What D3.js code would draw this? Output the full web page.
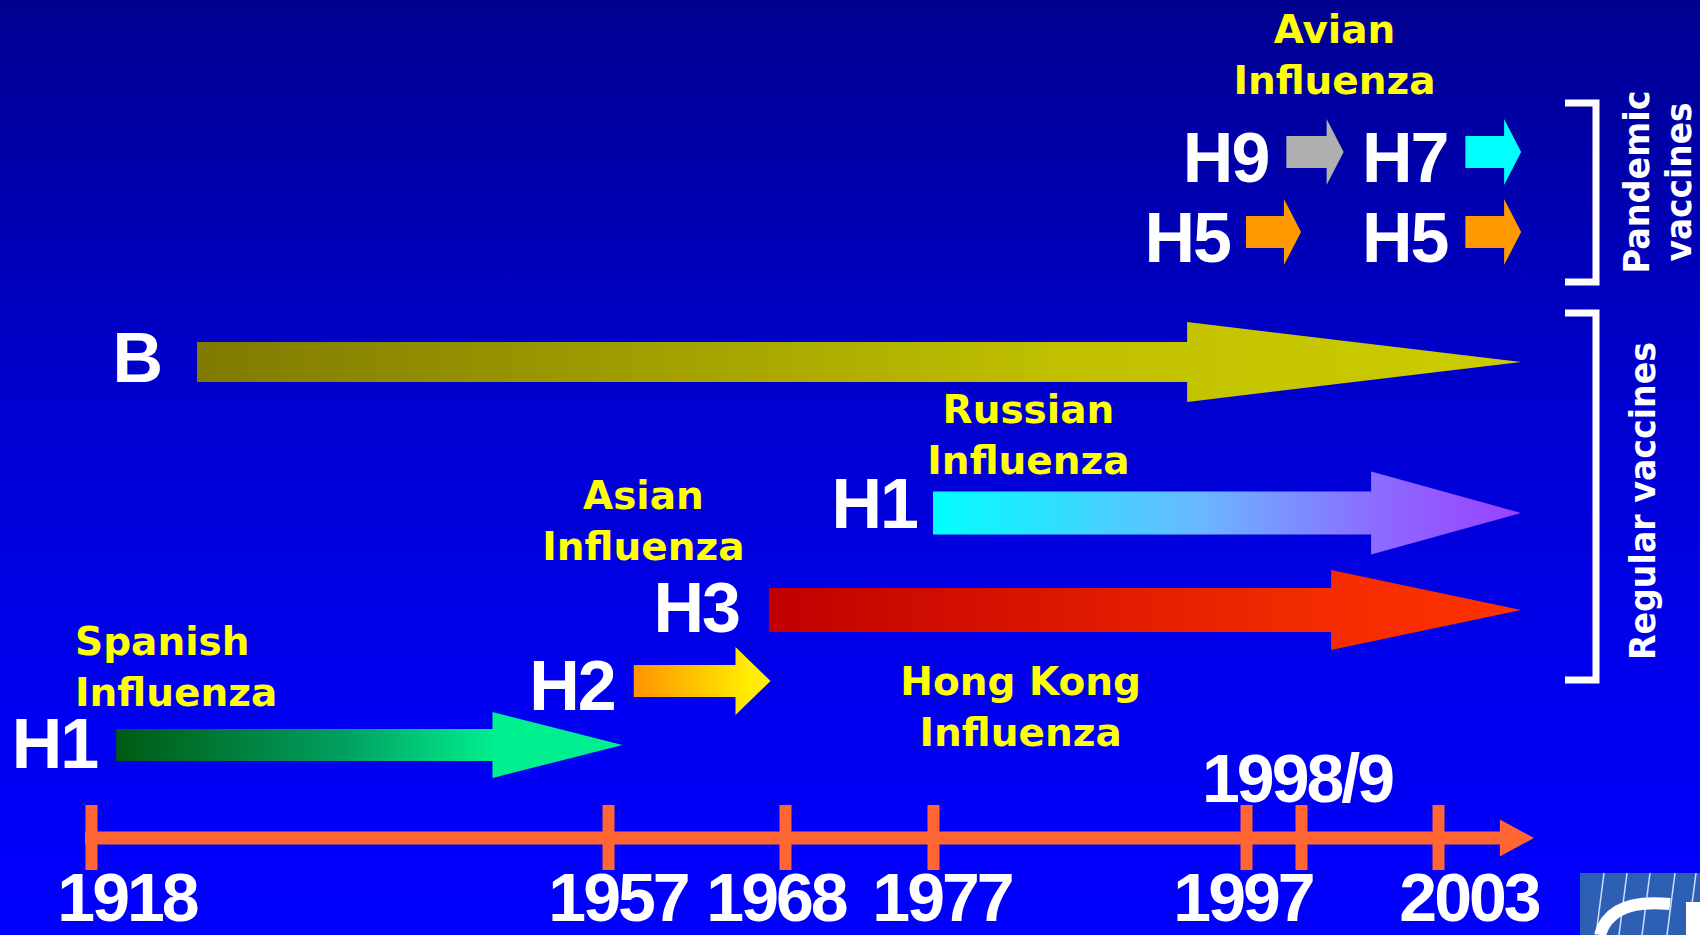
<!DOCTYPE html>
<html>
<head>
<meta charset="utf-8">
<script src="https://cdn.jsdelivr.net/npm/d3@7"></script>
<style>
  body { margin: 0; background: #0000ff; overflow: hidden; }
</style>
</head>
<body>
<div id="chart"></div>
<script>
// ---- data ----
var tickYears = [1918, 1957, 1968, 1977, 1997, 1998.5, 2003];
var tickLabels = ["1918", "1957", "1968", "1977", "1997", "1998/9", "2003"];
var axisSpan = [1917.55, 2006.15];

// regular (seasonal) subtypes: label, first year, arrow tip year, row
var subtypeNames = ["H1", "H2", "H3", "H1", "B"];
var subtypeStart = [1919.9, 1958.6, 1967.0, 1977.0, 1926.0];
var subtypeEnd = [1957.9, 1967.1, 2005.73, 2005.73, 2005.73];
var subtypeRow = ["spanish", "h2", "h3", "russian", "b"];

// avian strains (pandemic vaccine candidates)
var avianNames = ["H9", "H7", "H5", "H5"];
var avianStart = [1998.1, 2003.9, 1997.0, 2003.9];
var avianEnd = [1999.9, 2005.73, 1998.5, 2005.73];
var avianRow = ["avianTop", "avianTop", "avianBottom", "avianBottom"];

// pandemic names and the year they sit over
var pandemicNames = ["Spanish", "Asian", "Hong Kong", "Russian", "Avian"];
var pandemicYears = [1916.8, 1959.2, 1982.6, 1983.1, 1999.6];
var pandemicRow = ["spanishName", "asianName", "hongkongName", "russianName", "avianName"];

var vaccineGroups = [["Pandemic", "vaccines"], ["Regular vaccines"]];

// ---- layout ----
var W = 1700, H = 935;
var rowNames = ["avianName", "avianTop", "avianBottom", "b", "russianName", "russian",
  "asianName", "h3", "h2", "spanishName", "hongkongName", "spanish"];
var rowY = [43, 152, 232, 362, 423, 513, 509, 610, 681, 655, 695, 745];
var lineGap = 51;

var styles = {
  spanish: { shaft: 32, headH: 66, head: 130, gap: 19, dy: 23,
    stops: [[0, "#005a14"], [0.45, "#00a060"], [0.75, "#00f090"], [1, "#00f090"]] },
  h2: { shaft: 32, headH: 68, head: 35, gap: 19, dy: 29,
    stops: [[0, "#ff9400"], [0.85, "#ffee00"], [1, "#ffee00"]] },
  h3: { shaft: 44, headH: 80, head: 190, gap: 30, dy: 22,
    stops: [[0, "#c00000"], [0.7, "#f22a00"], [1, "#ff3300"]] },
  russian: { shaft: 43, headH: 83, head: 150, gap: 16, dy: 15,
    stops: [[0, "#00ffff"], [0.45, "#6ab8ff"], [0.75, "#8c6cff"], [1, "#9a40ff"]] },
  b: { shaft: 40, headH: 80, head: 334, gap: 36, dy: 20,
    stops: [[0, "#807a00"], [0.65, "#c0c000"], [1, "#cccc00"]] }
};
var avianColors = ["#b0b0b0", "#00ffff", "#ff9900", "#ff9900"];
var avianGap = [18, 18, 16, 18];
var axisColor = "#ff6633";
var labelShift = [36, 10, -9, 9, -3, -4, 31];
var sideLength = [[183, 159], [318]];

var svg = d3.select("#chart").append("svg")
  .attr("width", W)
  .attr("height", H);
var defs = svg.append("defs");

// background
var bg = defs.append("linearGradient").attr("id", "bg")
  .attr("x1", 0).attr("y1", 0).attr("x2", 0).attr("y2", 1);
[[0, "#000090"], [0.4, "#0000cc"], [0.72, "#0000ee"], [1, "#0000ff"]].forEach(function (s) {
  bg.append("stop").attr("offset", s[0]).attr("stop-color", s[1]);
});
svg.append("rect").attr("width", W).attr("height", H).attr("fill", "url(#bg)");

// the time scale on the slide is not even, so it is piecewise
var x = d3.scaleLinear()
  .domain(tickYears)
  .range([91, 608, 785, 933, 1246, 1301, 1438]);
var y = d3.scaleOrdinal().domain(rowNames).range(rowY);

function arrowPath(x0, x1, cy, shaft, headH, head) {
  var xh = x1 - head, s = shaft / 2, h = headH / 2;
  return "M" + x0 + "," + (cy - s) + "H" + xh + "V" + (cy - h) +
    "L" + x1 + "," + cy + "L" + xh + "," + (cy + h) + "V" + (cy + s) + "H" + x0 + "Z";
}

var whiteFont = "'Liberation Sans', Arial, sans-serif";
var yellowFont = "'DejaVu Sans', Verdana, sans-serif";

// ---- time axis ----
var axisY = 838;
var axisG = svg.append("g");
axisG.append("rect")
  .attr("x", x(axisSpan[0]))
  .attr("y", axisY - 6.5)
  .attr("width", x(axisSpan[1]) - 33 - x(axisSpan[0]))
  .attr("height", 13)
  .attr("fill", axisColor);
axisG.append("path")
  .attr("d", "M" + (x(axisSpan[1]) - 34) + "," + (axisY - 18.5) + "L" + x(axisSpan[1]) + "," + axisY +
    "L" + (x(axisSpan[1]) - 34) + "," + (axisY + 18.5) + "Z")
  .attr("fill", axisColor);

var ticks = svg.append("g")
  .attr("transform", "translate(0," + (axisY - 33) + ")")
  .call(d3.axisBottom(x).tickValues(tickYears).tickSize(65).tickFormat(""));
ticks.select(".domain").remove();
ticks.selectAll(".tick line").attr("stroke", axisColor).attr("stroke-width", 12);

svg.append("g").selectAll("text")
  .data(tickYears)
  .enter()
  .append("text")
  .attr("x", function (d, i) { return x(d) + labelShift[i]; })
  .attr("y", function (d, i) { return tickLabels[i] === "1998/9" ? 802 : 921; })
  .attr("text-anchor", "middle")
  .attr("fill", "#ffffff")
  .style("font-family", whiteFont)
  .style("font-weight", "bold")
  .style("font-size", "68px")
  .style("letter-spacing", "-3px")
  .text(function (d, i) { return tickLabels[i]; });

// ---- regular subtype arrows ----
subtypeRow.forEach(function (r) {
  var g = defs.append("linearGradient").attr("id", "grad-" + r)
    .attr("x1", 0).attr("y1", 0).attr("x2", 1).attr("y2", 0);
  styles[r].stops.forEach(function (s) {
    g.append("stop").attr("offset", s[0]).attr("stop-color", s[1]);
  });
});

var subG = svg.append("g");
subG.selectAll("path")
  .data(subtypeNames)
  .enter()
  .append("path")
  .attr("d", function (d, i) {
    var st = styles[subtypeRow[i]];
    return arrowPath(x(subtypeStart[i]), x(subtypeEnd[i]), y(subtypeRow[i]), st.shaft, st.headH, st.head);
  })
  .attr("fill", function (d, i) { return "url(#grad-" + subtypeRow[i] + ")"; });

subG.selectAll("text")
  .data(subtypeNames)
  .enter()
  .append("text")
  .attr("x", function (d, i) { return x(subtypeStart[i]) - styles[subtypeRow[i]].gap; })
  .attr("y", function (d, i) { return y(subtypeRow[i]) + styles[subtypeRow[i]].dy; })
  .attr("text-anchor", "end")
  .attr("fill", "#ffffff")
  .style("font-family", whiteFont)
  .style("font-weight", "bold")
  .style("font-size", "70px")
  .style("letter-spacing", "-2px")
  .text(function (d) { return d; });

// ---- avian arrows ----
var avG = svg.append("g");
avG.selectAll("path")
  .data(avianNames)
  .enter()
  .append("path")
  .attr("d", function (d, i) {
    return arrowPath(x(avianStart[i]), x(avianEnd[i]), y(avianRow[i]), 32, 66, 17);
  })
  .attr("fill", function (d, i) { return avianColors[i]; });

avG.selectAll("text")
  .data(avianNames)
  .enter()
  .append("text")
  .attr("x", function (d, i) { return x(avianStart[i]) - avianGap[i]; })
  .attr("y", function (d, i) { return y(avianRow[i]) + 30; })
  .attr("text-anchor", "end")
  .attr("fill", "#ffffff")
  .style("font-family", whiteFont)
  .style("font-weight", "bold")
  .style("font-size", "70px")
  .style("letter-spacing", "-2px")
  .text(function (d) { return d; });

// ---- pandemic names ----
var nameG = svg.append("g").selectAll("text")
  .data(pandemicNames)
  .enter()
  .append("text")
  .attr("x", function (d, i) { return x(pandemicYears[i]); })
  .attr("y", function (d, i) { return y(pandemicRow[i]); })
  .attr("text-anchor", function (d) { return d === "Spanish" ? "start" : "middle"; })
  .attr("fill", "#ffff00")
  .style("font-family", yellowFont)
  .style("font-weight", "bold")
  .style("font-size", "39px");
nameG.append("tspan")
  .attr("x", function (d, i) { return x(pandemicYears[i]); })
  .text(function (d) { return d; });
nameG.append("tspan")
  .attr("x", function (d, i) { return x(pandemicYears[i]); })
  .attr("dy", lineGap)
  .text("Influenza");

// ---- vaccine brackets ----
var brackets = [[103, 282, 182], [313, 680, 501]];
var brG = svg.append("g");
brG.selectAll("path")
  .data(vaccineGroups)
  .enter()
  .append("path")
  .attr("d", function (d, i) {
    var b = brackets[i];
    return "M1565," + b[0] + "H1596V" + b[1] + "H1565";
  })
  .attr("fill", "none")
  .attr("stroke", "#ffffff")
  .attr("stroke-width", 7);

vaccineGroups.forEach(function (lines, i) {
  var baseX = lines.length > 1 ? [1649, 1691] : [1655];
  lines.forEach(function (t, j) {
    brG.append("text")
      .attr("transform", "translate(" + baseX[j] + "," + brackets[i][2] + ") rotate(-90)")
      .attr("text-anchor", "middle")
      .attr("fill", "#ffffff")
      .attr("textLength", sideLength[i][j])
      .attr("lengthAdjust", "spacingAndGlyphs")
      .style("font-family", yellowFont)
      .style("font-weight", "bold")
      .style("font-size", "36px")
      .text(t);
  });
});

// ---- corner of the logo ----
var logo = svg.append("g");
logo.append("rect").attr("x", 1580).attr("y", 873).attr("width", 120).attr("height", 62).attr("fill", "#2d5fb5");
[1604, 1627, 1650, 1675, 1696].forEach(function (lx) {
  logo.append("line")
    .attr("x1", lx).attr("y1", 873).attr("x2", lx - 8).attr("y2", 935)
    .attr("stroke", "#cfe0ff").attr("stroke-width", 1.5);
});
logo.append("path")
  .attr("d", "M1600,935 Q1610,898 1670,904")
  .attr("fill", "none").attr("stroke", "#ffffff").attr("stroke-width", 12);
logo.append("rect").attr("x", 1686).attr("y", 902).attr("width", 14).attr("height", 33).attr("fill", "#ffffff");
</script>
</body>
</html>
